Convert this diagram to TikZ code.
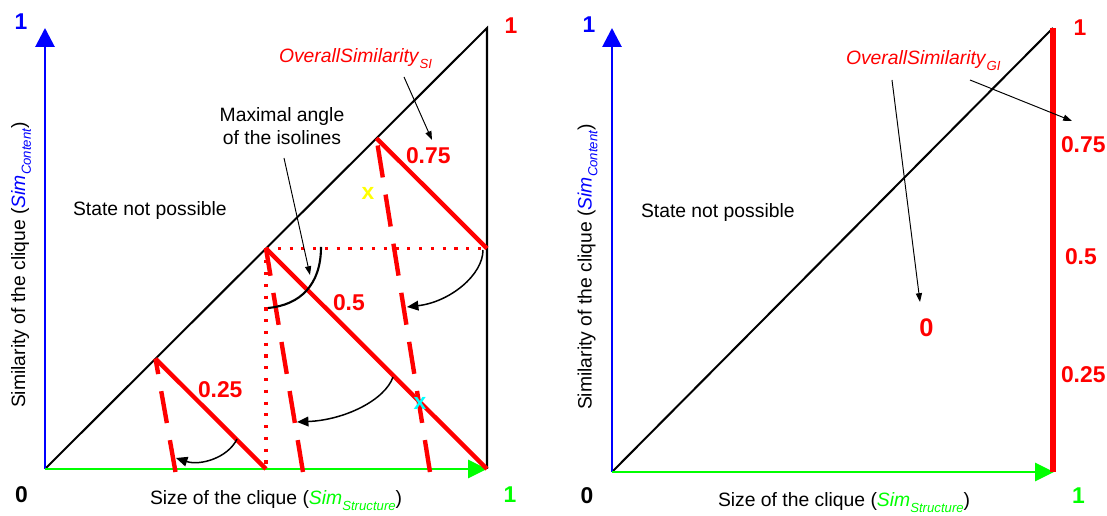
\documentclass[tikz,border=0pt]{standalone}
\usepackage{fontspec}
\setmainfont{Liberation Sans}
\usetikzlibrary{arrows.meta}
\definecolor{axisBlue}{RGB}{0,0,255}
\definecolor{axisGreen}{RGB}{0,255,0}
\definecolor{isoRed}{RGB}{255,0,0}
\definecolor{markYellow}{RGB}{255,255,0}
\definecolor{markCyan}{RGB}{0,255,255}
\newcommand{\isosub}[1]{\raisebox{-3.4pt}{\fontsize{7.5}{8}\selectfont\itshape #1}}

\begin{document}
\begin{tikzpicture}[x=0.02cm, y=0.02cm,
  every node/.style={inner sep=0pt, outer sep=0pt},
  txt/.style={font=\fontsize{11}{13}\selectfont},
  num/.style={font=\fontsize{13}{15}\selectfont\bfseries, text=isoRed},
  axisnum/.style={font=\fontsize{13}{15}\selectfont\bfseries},
  markx/.style={font=\fontsize{13}{15}\selectfont\bfseries},
  yaxis/.style={draw=axisBlue, line width=1.6pt, -{Triangle[length=0.38cm, width=0.38cm]}},
  xaxis/.style={draw=axisGreen, line width=1.6pt, -{Triangle[length=0.38cm, width=0.36cm]}},
  bound/.style={draw=black, line width=1.15pt},
  iso/.style={draw=isoRed, line width=2.5pt},
  isodash/.style={draw=isoRed, line width=2.5pt, dash pattern=on 18.4pt off 9.9pt},
  isodot/.style={draw=isoRed, line width=1.8pt, dash pattern=on 1.8pt off 4.9pt},
  bendarrow/.style={draw=black, line width=0.85pt, -{Triangle[length=6.5pt, width=5.5pt]}},
  thinarrow/.style={draw=black, line width=0.55pt, -{Triangle[length=5pt, width=3.5pt]}}
]
  \useasboundingbox (0,0) rectangle (1107,516);
  \fill[white] (0,0) rectangle (1107,516);

  % left panel
  \coordinate (o1) at (45,47);
  \coordinate (ytop1) at (45,488);
  \coordinate (xend1) at (487,47);
  \coordinate (peak1) at (487,488);
  \coordinate (a25) at (155.5,157.3);
  \coordinate (a50) at (266,267.5);
  \coordinate (a75) at (376.5,377.8);
  \coordinate (b25) at (266,47);
  \coordinate (b50) at (487,47);
  \coordinate (b75) at (487,267.5);
  \coordinate (d25) at (175.5,44);
  \coordinate (d50) at (303,44);
  \coordinate (d75) at (430,44);

  \draw[bound] (o1) -- (peak1) -- (xend1);
  \draw[yaxis] (o1) -- (ytop1);
  \draw[xaxis] (o1) -- (xend1);

  \draw[isodot] (a50) -- (b75);
  \draw[isodot] (a50) -- (b25);
  \draw[iso] (a25) -- (b25);
  \draw[iso] (a50) -- (b50);
  \draw[iso] (a75) -- (b75);
  \draw[isodash] (d25) -- (a25);
  \draw[isodash] (d50) -- (a50);
  \draw[isodash] (d75) -- (a75);

  \coordinate (arcS) at (321,269);
  \coordinate (arcE) at (268,208);
  \draw[black, line width=1.2pt] (arcS) .. controls (321,231) and (300,211) .. (arcE);

  \coordinate (bend75S) at (483,266);
  \coordinate (bend75E) at (407,209);
  \draw[bendarrow] (bend75S) .. controls (483,241) and (450,214) .. (bend75E);
  \coordinate (bend50S) at (393,139);
  \coordinate (bend50E) at (297,94);
  \draw[bendarrow] (bend50S) .. controls (385,116) and (345,96) .. (bend50E);
  \coordinate (bend25S) at (237,77);
  \coordinate (bend25E) at (176,58);
  \draw[bendarrow] (bend25S) .. controls (228,58) and (200,50) .. (bend25E);

  \node[txt, anchor=base west] (nopos1) at (73,300) {State not possible};
  \node[txt, align=center] (maxang) at (282,390) {Maximal angle\\of the isolines};
  \node[txt, text=isoRed, anchor=base west] (ovsi) at (279,453) {\textit{OverallSimilarity}\isosub{SI}};
  \coordinate (maxangS) at (284,358);
  \coordinate (maxangE) at (310,241);
  \draw[thinarrow] (maxangS) -- (maxangE);
  \coordinate (ovsiS) at (404,439);
  \coordinate (ovsiE) at (432,376);
  \draw[thinarrow] (ovsiS) -- (ovsiE);

  \node[num, anchor=base west] (l75) at (406,352) {0.75};
  \node[num, anchor=base west] (l50) at (333,205) {0.5};
  \node[num, anchor=base west] (l25) at (198,118) {0.25};
  \node[markx, text=markYellow] (xyel) at (368,323) {x};
  \node[markx, text=markCyan] (xcya) at (420,113) {x};

  \node[txt, anchor=base west, rotate=90] (ylab1) at (25,108) {Similarity of the clique (\textcolor{axisBlue}{\textit{Sim}\isosub{Content}})};
  \node[txt, anchor=base west] (xlab1) at (150,11) {Size of the clique (\textcolor{axisGreen}{\textit{Sim}\isosub{Structure}})};
  \node[axisnum, text=axisBlue] (ymax1) at (21,494.5) {1};
  \node[axisnum, text=isoRed] (smax1) at (511,490.5) {1};
  \node[axisnum] (zero1) at (21.5,21.5) {0};
  \node[axisnum, text=axisGreen] (xmax1) at (510,21.5) {1};

  % right panel
  \coordinate (o2) at (612,44);
  \coordinate (ytop2) at (612,488);
  \coordinate (xend2) at (1054,44);
  \coordinate (peak2) at (1053,488);
  \coordinate (foot2) at (1053,44);

  \draw[bound] (o2) -- (peak2);
  \draw[yaxis] (o2) -- (ytop2);
  \draw[xaxis] (o2) -- (xend2);
  \draw[draw=isoRed, line width=3pt] (peak2) -- (foot2);

  \node[txt, anchor=base west] (nopos2) at (641,298) {State not possible};
  \node[txt, text=isoRed, anchor=base west] (ovgi) at (846,451) {\textit{OverallSimilarity}\isosub{GI}};
  \coordinate (ovgiS) at (970,436);
  \coordinate (ovgiE) at (1072,395);
  \draw[thinarrow] (ovgiS) -- (ovgiE);
  \coordinate (zeroS) at (892,436);
  \coordinate (zeroE) at (920,214);
  \draw[thinarrow] (zeroS) -- (zeroE);

  \node[font=\fontsize{14.5}{16}\selectfont\bfseries, text=isoRed] (gzero) at (926.5,188.5) {0};
  \node[num, anchor=west] (g75) at (1061,371) {0.75};
  \node[num, anchor=west] (g50) at (1065,259) {0.5};
  \node[num, anchor=west] (g25) at (1061,141) {0.25};

  \node[txt, anchor=base west, rotate=90] (ylab2) at (591.5,106) {Similarity of the clique (\textcolor{axisBlue}{\textit{Sim}\isosub{Content}})};
  \node[txt, anchor=base west] (xlab2) at (718,9) {Size of the clique (\textcolor{axisGreen}{\textit{Sim}\isosub{Structure}})};
  \node[axisnum, text=axisBlue] (ymax2) at (589,491) {1};
  \node[axisnum, text=isoRed] (smax2) at (1080,488.5) {1};
  \node[axisnum] (zero2) at (587,20) {0};
  \node[axisnum, text=axisGreen] (xmax2) at (1078.5,20.5) {1};
\end{tikzpicture}
\end{document}
